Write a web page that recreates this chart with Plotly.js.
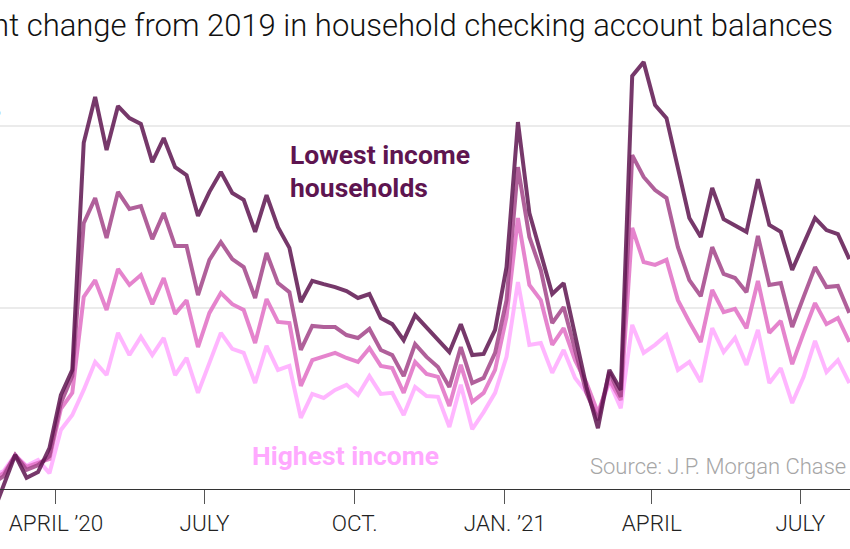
<!DOCTYPE html>
<html>
<head>
<meta charset="utf-8">
<script src="https://cdn.plot.ly/plotly-3.0.1.min.js"></script>
<style>
  html, body { margin: 0; padding: 0; background: #fff; }
  #chart { width: 850px; height: 549px; }
</style>
</head>
<body>
<div id="chart"></div>
<script>
// weekly readings, percent change from 2019
const weeks = [
  "2020-02-22", "2020-02-29", "2020-03-07", "2020-03-14", "2020-03-21", "2020-03-28",
  "2020-04-04", "2020-04-11", "2020-04-18", "2020-04-25", "2020-05-02", "2020-05-09",
  "2020-05-16", "2020-05-23", "2020-05-30", "2020-06-06", "2020-06-13", "2020-06-20",
  "2020-06-27", "2020-07-04", "2020-07-11", "2020-07-18", "2020-07-25", "2020-08-01",
  "2020-08-08", "2020-08-15", "2020-08-22", "2020-08-29", "2020-09-05", "2020-09-12",
  "2020-09-19", "2020-09-26", "2020-10-03", "2020-10-10", "2020-10-17", "2020-10-24",
  "2020-10-31", "2020-11-07", "2020-11-14", "2020-11-21", "2020-11-28", "2020-12-05",
  "2020-12-12", "2020-12-19", "2020-12-26", "2021-01-02", "2021-01-09", "2021-01-16",
  "2021-01-23", "2021-01-30", "2021-02-06", "2021-02-13", "2021-02-20", "2021-02-27",
  "2021-03-06", "2021-03-13", "2021-03-20", "2021-03-27", "2021-04-03", "2021-04-10",
  "2021-04-17", "2021-04-24", "2021-05-01", "2021-05-08", "2021-05-15", "2021-05-22",
  "2021-05-29", "2021-06-05", "2021-06-12", "2021-06-19", "2021-06-26", "2021-07-03",
  "2021-07-10", "2021-07-17", "2021-07-24", "2021-07-31"
];

const lowestIncome = [
  -7.0, 1.2, 9.5, 3.2, 4.8, 11.4, 26.0, 32.9, 95.4, 108.0,
  93.4, 105.5, 102.2, 100.6, 90.1, 96.7, 88.7, 86.5, 75.3, 81.9,
  87.4, 81.6, 79.7, 70.9, 81.0, 72.2, 66.5, 51.6, 57.4, 56.5,
  55.7, 54.6, 52.7, 53.8, 47.2, 45.5, 41.1, 48.0, 44.7, 41.4,
  37.8, 45.5, 37.0, 37.3, 43.9, 61.2, 101.1, 76.1, 64.5, 53.8,
  56.8, 42.0, 28.2, 16.9, 32.9, 27.4, 113.8, 117.6, 105.8, 102.2,
  88.5, 74.7, 69.5, 83.0, 74.4, 72.8, 70.9, 85.4, 72.8, 70.9,
  60.4, 67.6, 74.7, 71.4, 70.3, 63.4
];

const lowerMiddle = [
  1.5, 3.7, 9.5, 5.4, 6.7, 9.2, 23.8, 31.2, 73.3, 80.2,
  69.2, 81.9, 77.2, 78.0, 68.9, 76.1, 67.0, 67.0, 53.5, 63.2,
  68.1, 63.4, 61.2, 52.7, 65.1, 56.8, 54.3, 38.4, 45.0, 44.7,
  44.7, 42.5, 41.7, 44.2, 38.4, 37.0, 31.2, 40.0, 36.5, 33.7,
  28.2, 39.2, 29.3, 30.7, 37.6, 52.1, 88.7, 69.5, 60.4, 45.8,
  50.2, 38.4, 26.6, 19.1, 32.3, 25.5, 92.0, 86.0, 82.4, 80.2,
  66.7, 57.6, 53.2, 66.7, 59.3, 58.2, 54.3, 69.8, 56.3, 56.8,
  44.7, 53.0, 61.2, 55.7, 56.0, 48.6
];

const upperMiddle = [
  2.6, 4.5, 9.2, 6.2, 7.3, 8.4, 22.2, 26.6, 53.0, 57.6,
  49.4, 60.7, 56.3, 59.0, 51.0, 58.2, 48.3, 52.1, 39.2, 48.6,
  54.1, 51.0, 49.4, 40.3, 52.4, 46.1, 45.8, 28.5, 35.6, 36.5,
  37.6, 36.2, 35.1, 38.9, 34.0, 33.4, 26.6, 35.1, 31.8, 31.0,
  23.0, 34.3, 24.1, 26.6, 32.9, 47.5, 74.7, 56.3, 52.1, 39.8,
  44.4, 35.6, 29.3, 21.1, 30.1, 24.6, 72.0, 62.6, 61.8, 63.2,
  52.1, 46.1, 40.6, 54.9, 48.8, 49.7, 44.4, 57.4, 43.1, 46.4,
  34.5, 43.1, 51.3, 45.5, 47.2, 40.6
];

const highestIncome = [
  3.7, 5.1, 9.5, 6.5, 8.1, 4.5, 16.4, 20.5, 27.4, 35.1,
  31.5, 43.1, 37.0, 42.0, 37.0, 41.7, 31.5, 36.2, 26.6, 35.1,
  43.1, 38.7, 37.6, 29.3, 39.5, 32.9, 34.0, 19.7, 26.3, 25.2,
  27.4, 28.8, 26.0, 31.2, 26.3, 26.6, 20.5, 28.2, 25.7, 25.5,
  17.2, 28.8, 16.6, 21.3, 26.6, 36.5, 57.1, 39.8, 40.3, 32.1,
  38.4, 30.7, 26.6, 20.5, 29.6, 22.4, 45.3, 37.6, 39.8, 42.5,
  32.9, 35.1, 29.6, 44.4, 37.8, 41.7, 34.3, 43.9, 29.3, 33.4,
  23.8, 31.0, 40.9, 32.3, 35.6, 29.3
];

const tickDates = ["2020-04-01", "2020-07-01", "2020-10-01", "2021-01-01", "2021-04-01", "2021-07-01"];
const tickLabels = ["APRIL \u201920", "JULY", "OCT.", "JAN. \u201921", "APRIL", "JULY"];

const FONT = "Roboto, 'Liberation Sans', sans-serif";

function line(y, color) {
    return {
        x: weeks,
        y: y,
        type: 'scatter',
        mode: 'lines',
        line: {color: color, width: 4},
        opacity: 0.85,
        hoverinfo: 'skip'
    };
}

// lightest first so the darkest line sits on top
var data = [
    line(highestIncome, '#ffa9ff'),
    line(upperMiddle, '#e06fc4'),
    line(lowerMiddle, '#a24488'),
    line(lowestIncome, '#5e1550')
];

var layout = {
    width: 850,
    height: 549,
    margin: {l: 0, r: 0, t: 0, b: 0},
    showlegend: false,
    paper_bgcolor: '#fff',
    plot_bgcolor: '#fff',
    font: {family: FONT, color: '#222'},
    xaxis: {
        type: 'date',
        range: ['2020-02-26 17:00', '2021-07-31 10:00'],
        anchor: 'free',
        position: 0.1084,
        showline: true,
        linecolor: '#333',
        linewidth: 1,
        ticks: 'outside',
        ticklen: 14,
        tickwidth: 1,
        tickcolor: '#555',
        tickvals: tickDates,
        ticktext: tickLabels,
        tickfont: {size: 22.5, color: '#222', family: FONT, weight: 300},
        showgrid: false,
        zeroline: false,
        automargin: false
    },
    yaxis: {
        range: [-16.37, 134.7],
        tickvals: [50, 100],
        showticklabels: false,
        showgrid: true,
        gridcolor: '#ebebeb',
        gridwidth: 2,
        zeroline: false,
        automargin: false
    },
    annotations: [
        {xref: 'paper', yref: 'paper', x: 0.9824, y: 0.953, xanchor: 'right', yanchor: 'middle',
         text: 'Percent change from 2019 in household checking account balances', showarrow: false,
         font: {size: 31, color: '#111', family: FONT, weight: 300}},
        {xref: 'paper', yref: 'paper', x: 0.004, y: 0.80, xanchor: 'right', yanchor: 'middle',
         text: '+100%', showarrow: false, font: {size: 17, color: '#333', family: FONT}},
        {xref: 'paper', yref: 'paper', x: 0.3388, y: 0.7177, xanchor: 'left', yanchor: 'middle',
         text: 'Lowest income', showarrow: false,
         font: {size: 26.5, color: '#5e1550', family: FONT, weight: 700}},
        {xref: 'paper', yref: 'paper', x: 0.3388, y: 0.6576, xanchor: 'left', yanchor: 'middle',
         text: 'households', showarrow: false,
         font: {size: 26.5, color: '#5e1550', family: FONT, weight: 700}},
        {xref: 'paper', yref: 'paper', x: 0.2941, y: 0.1712, xanchor: 'left', yanchor: 'middle',
         text: 'Highest income', showarrow: false,
         font: {size: 26.5, color: '#ffa9ff', family: FONT, weight: 700}},
        {xref: 'paper', yref: 'paper', x: 0.6918, y: 0.1494, xanchor: 'left', yanchor: 'middle',
         text: 'Source: J.P. Morgan Chase', showarrow: false,
         font: {size: 22, color: '#a6a6a6', family: FONT, weight: 300}}
    ]
};

Plotly.newPlot('chart', data, layout, {staticPlot: true, displayModeBar: false});
</script>
</body>
</html>
